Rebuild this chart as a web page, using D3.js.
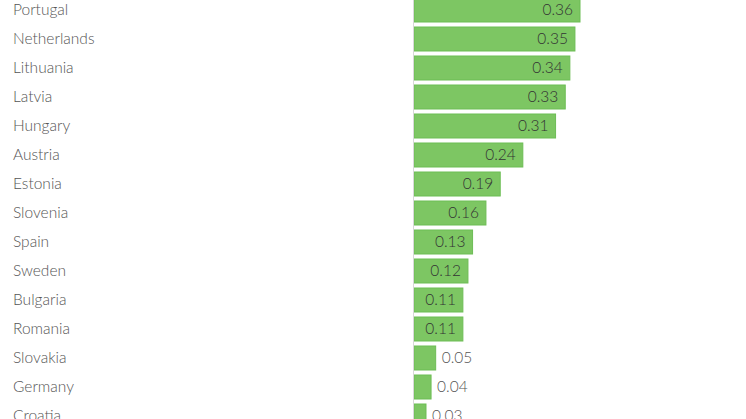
<!DOCTYPE html>
<html>
<head>
<meta charset="utf-8">
<script src="https://cdn.jsdelivr.net/npm/d3@7"></script>
<style>
  html, body { margin: 0; padding: 0; background: #fff; }
  svg { display: block; font-family: "Source Sans Pro", Lato, "Open Sans", sans-serif; font-weight: 300; }
</style>
</head>
<body>
<div id="chart"></div>
<script>
// Countries, top to bottom (list is cut off at the bottom of the frame)
var countries = ['Portugal', 'Netherlands', 'Lithuania', 'Latvia', 'Hungary', 'Austria', 'Estonia',
  'Slovenia', 'Spain', 'Sweden', 'Bulgaria', 'Romania', 'Slovakia', 'Germany', 'Croatia'];
// Values; labels show them rounded to 2 decimals
var values = [0.360, 0.349, 0.338, 0.328, 0.307, 0.236, 0.187,
  0.156, 0.127, 0.117, 0.106, 0.106, 0.047, 0.037, 0.026];

var width = 746, height = 419;
var x0 = 414;
var rowStep = 29, barH = 24;

var svg = d3.select('#chart').append('svg')
    .attr('width', width)
    .attr('height', height);

var x = d3.scaleLinear()
    .domain([0, 0.36])
    .range([x0, x0 + 166]);

// step 29, bar 24 → range length = 29 * (n - 1) + 24
var y = d3.scaleBand()
    .domain(countries)
    .range([-2, -2 + rowStep * (countries.length - 1) + barH])
    .paddingInner((rowStep - barH) / rowStep)
    .paddingOuter(0);

var rows = svg.selectAll('g.row')
    .data(countries)
    .enter().append('g')
    .attr('class', 'row');

rows.append('rect')
    .attr('x', x(0))
    .attr('y', function (d) { return y(d); })
    .attr('width', function (d, i) { return x(values[i]) - x(0); })
    .attr('height', y.bandwidth())
    .attr('fill', '#7dc663')
    .attr('stroke', '#6dbd55')
    .attr('stroke-width', 1);

// Country labels
rows.append('text')
    .attr('x', 13)
    .attr('y', function (d) { return y(d) + y.bandwidth() / 2; })
    .attr('dy', '0.35em')
    .attr('fill', '#555')
    .style('font-size', '15.5px')
    .text(function (d) { return d; });

// Value labels: inside the bar if there is room, else just past its end
function inside(i) { return x(values[i]) - x(0) > 40; }

rows.append('text')
    .attr('x', function (d, i) { return inside(i) ? x(values[i]) - 7 : x(values[i]) + 6; })
    .attr('text-anchor', function (d, i) { return inside(i) ? 'end' : 'start'; })
    .attr('y', function (d) { return y(d) + y.bandwidth() / 2; })
    .attr('dy', '0.35em')
    .attr('fill', function (d, i) { return inside(i) ? '#333' : '#555'; })
    .style('font-size', '15.5px')
    .text(function (d, i) { return d3.format('.2f')(values[i]); });

// Baseline
svg.append('line')
    .attr('x1', x0 - 0.5).attr('x2', x0 - 0.5)
    .attr('y1', 0).attr('y2', height)
    .attr('stroke', '#d8d8d8')
    .attr('stroke-width', 1);
</script>
</body>
</html>
